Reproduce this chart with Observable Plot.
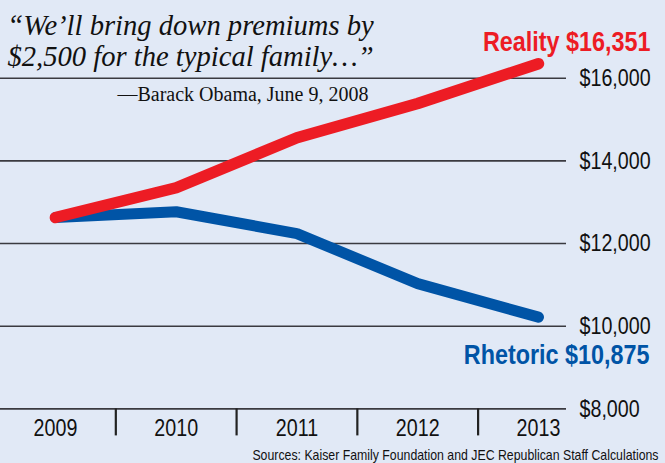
<!DOCTYPE html>
<html>
<head>
<meta charset="utf-8">
<script src="https://cdn.jsdelivr.net/npm/d3@7"></script>
<script src="https://cdn.jsdelivr.net/npm/@observablehq/plot@0.6"></script>
<style>
  html, body { margin: 0; padding: 0; background: #e1e9f6; }
  #chart svg { display: block; }
</style>
</head>
<body>
<div id="chart"></div>
<script>
// ---- data ----
const years = [2009, 2010, 2011, 2012, 2013];
const reality = [12630, 13350, 14560, 15390, 16351];
const rhetoric = [12630, 12770, 12240, 11030, 10220];
const yTicks = [8000, 10000, 12000, 14000, 16000];
const yTickLabels = ["$8,000", "$10,000", "$12,000", "$14,000", "$16,000"];
const yearLabels = ["2009", "2010", "2011", "2012", "2013"];
const realityLabel = "Reality $16,351";
const rhetoricLabel = "Rhetoric $10,875";
const quote = "\u201CWe\u2019ll bring down premiums by\n$2,500 for the typical family\u2026\u201D";
const attribution = "\u2014Barack Obama, June 9, 2008";
const sources = "Sources: Kaiser Family Foundation and JEC Republican Staff Calculations";

const RED = "#ed1c24";
const BLUE = "#0054a6";
const NARROW = "'Liberation Sans', Arial, sans-serif";
const SERIF = "'Liberation Serif', 'Times New Roman', serif";

const realityData = years.map((x, i) => ({x, y: reality[i]}));
const rhetoricData = years.map((x, i) => ({x, y: rhetoric[i]}));
const separators = years.slice(1).map(y => y - 0.5);
const tickData = yTicks.map((v, i) => ({v, label: yTickLabels[i]}));
const yearData = years.map((x, i) => ({x, label: yearLabels[i]}));

const chart = Plot.plot({
  width: 665,
  height: 463,
  marginLeft: 0,
  marginRight: 99,
  marginTop: 77.7,
  marginBottom: 54.6,
  style: {background: "#e1e9f6", overflow: "visible"},
  x: {domain: [2008.545, 2013.232], axis: null, label: null},
  y: {domain: [8000, 16000], axis: null, label: null},
  marks: [
    Plot.ruleY(yTicks, {stroke: "#3a3a40", strokeWidth: 1.6}),
    Plot.axisX(separators, {anchor: "bottom", tickSize: 27, tickFormat: null, text: null, label: null, stroke: "#222", strokeWidth: 2.2}),
    Plot.text(tickData, {y: "v", text: "label", frameAnchor: "right", dx: 13, textAnchor: "start", fontSize: 24, fontFamily: NARROW, fill: "#111"}),
    Plot.text(yearData, {x: "x", text: "label", frameAnchor: "bottom", lineAnchor: "middle", dy: 19, fontSize: 24, fontFamily: NARROW, fill: "#111"}),
    Plot.line(rhetoricData, {x: "x", y: "y", stroke: BLUE, strokeWidth: 11, strokeLinecap: "round", strokeLinejoin: "round"}),
    Plot.line(realityData, {x: "x", y: "y", stroke: RED, strokeWidth: 11.5, strokeLinecap: "round", strokeLinejoin: "round"}),
    Plot.text(realityData.slice(-1), {x: "x", y: "y", text: [realityLabel], textAnchor: "end", dx: 112, dy: -22, fontSize: 28.5, fontWeight: "bold", fontFamily: NARROW, fill: RED}),
    Plot.text(rhetoricData.slice(-1), {x: "x", y: "y", text: [rhetoricLabel], textAnchor: "end", dx: 111, dy: 38, fontSize: 28.5, fontWeight: "bold", fontFamily: NARROW, fill: BLUE}),
    Plot.text([quote], {frameAnchor: "top-left", text: d => d, dx: 190, dy: -65.7, lineAnchor: "top", textAnchor: "middle", lineHeight: 1.1, fontSize: 28.6, fontStyle: "italic", fontFamily: SERIF, fill: "#111"}),
    Plot.text([attribution], {frameAnchor: "top-left", text: d => d, dx: 368, dy: 8.1, lineAnchor: "top", textAnchor: "end", fontSize: 20, fontFamily: SERIF, fill: "#111"}),
    Plot.text([sources], {frameAnchor: "bottom-right", text: d => d, dx: 92, dy: 41, lineAnchor: "top", textAnchor: "end", fontSize: 14, fontFamily: NARROW, fill: "#111"})
  ]
});
document.getElementById("chart").appendChild(chart);

// emulate a condensed (narrow) sans face: squeeze sans texts horizontally about their anchor
chart.querySelectorAll('g[font-family*="Liberation Sans"] text').forEach(t => {
  const f = t.textContent.startsWith("Sources") ? 0.88 : 0.82;
  const tr = t.getAttribute("transform");
  if (tr) {
    t.setAttribute("transform", `${tr} scale(${f},1)`);
  } else {
    const x = +(t.getAttribute("x") || 0), y = +(t.getAttribute("y") || 0);
    t.setAttribute("transform", `translate(${x},${y}) scale(${f},1) translate(${-x},${-y})`);
  }
});
</script>
</body>
</html>
